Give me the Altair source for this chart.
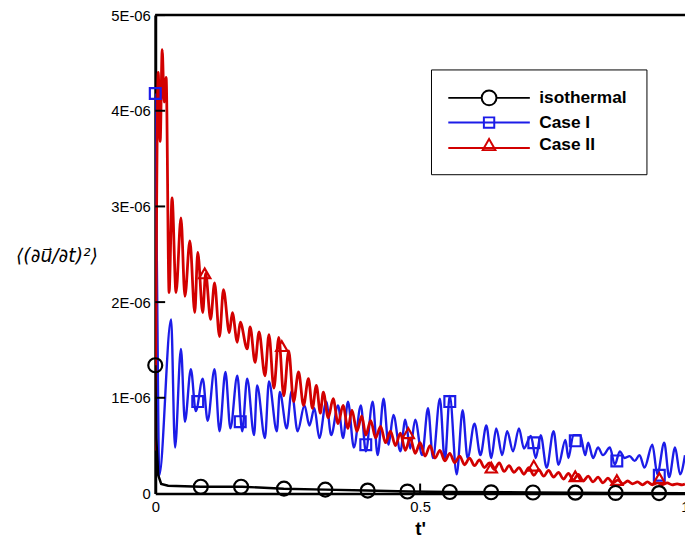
import altair as alt
import pandas as pd

series = ["isothermal", "Case I", "Case II"]
colors = ["#000000", "#1c1ce8", "#d20000"]

# ---- isothermal (values in units of 1E-06) ----
iso_t = [0.0, 0.0019, 0.0056, 0.0112, 0.0243, 0.0858, 0.1642, 0.2425, 0.3209,
         0.3993, 0.4776, 0.5560, 0.7146, 0.8731, 1.0]
iso_v = [1.34, 0.58, 0.19, 0.10, 0.08, 0.07, 0.07, 0.05, 0.04,
         0.03, 0.02, 0.015, 0.01, 0.005, 0.003]

# ---- Case I ----
c1_t = [0.0, 0.0037, 0.0075, 0.0299, 0.0373, 0.0485, 0.0560, 0.0672, 0.0765, 0.0896,
        0.0989, 0.1119, 0.1213, 0.1325, 0.1418, 0.1549, 0.1642, 0.1735, 0.1866, 0.1922,
        0.2071, 0.2146, 0.2295, 0.2351, 0.2481, 0.2575, 0.2687, 0.2817, 0.2910, 0.3004,
        0.3097, 0.3228, 0.3321, 0.3451, 0.3545, 0.3638, 0.3750, 0.3881, 0.3974, 0.4104,
        0.4198, 0.4310, 0.4403, 0.4496, 0.4627, 0.4720, 0.4813, 0.4907, 0.5037, 0.5149,
        0.5243, 0.5373, 0.5466, 0.5560, 0.5690, 0.5802, 0.5896, 0.6026, 0.6138, 0.6250,
        0.6343, 0.6437, 0.6549, 0.6642, 0.6754, 0.6866, 0.6959, 0.7090, 0.7183, 0.7276,
        0.7388, 0.7519, 0.7612, 0.7743, 0.7799, 0.7892, 0.8022, 0.8116, 0.8172, 0.8265,
        0.8358, 0.8451, 0.8582, 0.8675, 0.8769, 0.8862, 0.8955, 0.9049, 0.9142, 0.9235,
        0.9384, 0.9478, 0.9608, 0.9701, 0.9813, 0.9907, 1.0]
c1_v = [4.18, 2.02, 0.19, 1.82, 0.48, 1.51, 0.75, 1.30, 0.86, 1.20,
        0.76, 1.30, 0.65, 1.27, 0.68, 1.23, 0.65, 1.20, 0.61, 1.13,
        0.58, 1.17, 0.65, 1.06, 0.68, 1.07, 0.65, 0.92, 0.71, 0.89,
        0.58, 0.96, 0.61, 0.92, 0.58, 0.96, 0.48, 0.92, 0.44, 0.96,
        0.40, 0.99, 0.51, 0.82, 0.44, 0.77, 0.47, 0.77, 0.40, 0.89,
        0.37, 0.99, 0.34, 1.02, 0.20, 0.87, 0.37, 0.73, 0.40, 0.71,
        0.37, 0.68, 0.40, 0.65, 0.44, 0.68, 0.47, 0.60, 0.37, 0.61,
        0.27, 0.65, 0.30, 0.56, 0.37, 0.61, 0.61, 0.40, 0.53, 0.37,
        0.48, 0.40, 0.48, 0.30, 0.44, 0.37, 0.39, 0.34, 0.40, 0.27,
        0.51, 0.20, 0.53, 0.17, 0.48, 0.20, 0.40]

# ---- Case II ----
c2_t = [0.0, 0.0056, 0.0093, 0.0131, 0.0168, 0.0205, 0.0261, 0.0317, 0.0392, 0.0485,
        0.0560, 0.0653, 0.0746, 0.0802, 0.0896, 0.0951, 0.1045, 0.1119, 0.1213, 0.1287,
        0.1399, 0.1455, 0.1549, 0.1604, 0.1735, 0.1791, 0.1884, 0.1959, 0.2071, 0.2146,
        0.2239, 0.2332, 0.2425, 0.2519, 0.2612, 0.2705, 0.2799, 0.2892, 0.2966, 0.3041,
        0.3116, 0.3172, 0.3265, 0.3358, 0.3451, 0.3545, 0.3638, 0.3713, 0.3806, 0.3899,
        0.3974, 0.4067, 0.4160, 0.4254, 0.4347, 0.4440, 0.4534, 0.4627, 0.4720, 0.4813,
        0.4907, 0.5000, 0.5093, 0.5187, 0.5280, 0.5373, 0.5466, 0.5560, 0.5653, 0.5746,
        0.5840, 0.5933, 0.6026, 0.6119, 0.6213, 0.6306, 0.6399, 0.6493, 0.6586, 0.6679,
        0.6772, 0.6866, 0.6959, 0.7052, 0.7146, 0.7239, 0.7332, 0.7425, 0.7519, 0.7612,
        0.7705, 0.7799, 0.7892, 0.7985, 0.8078, 0.8172, 0.8265, 0.8358, 0.8451, 0.8545,
        0.8638, 0.8731, 0.8825, 0.8918, 0.9011, 0.9104, 0.9198, 0.9291, 0.9384, 0.9478,
        0.9571, 0.9664, 0.9757, 0.9851, 0.9944, 1.0]
c2_v = [0.45, 4.40, 3.68, 4.64, 4.09, 4.35, 2.10, 3.09, 2.10, 2.88,
        2.06, 2.64, 1.89, 2.52, 1.89, 2.30, 1.82, 2.20, 1.64, 2.13,
        1.68, 1.89, 1.58, 1.79, 1.51, 1.74, 1.37, 1.69, 1.23, 1.66,
        1.10, 1.63, 1.02, 1.49, 0.96, 1.27, 0.92, 1.20, 0.89, 1.13,
        0.84, 1.06, 0.79, 0.99, 0.73, 0.92, 0.68, 0.87, 0.65, 0.81,
        0.61, 0.76, 0.58, 0.70, 0.53, 0.65, 0.50, 0.63, 0.45, 0.58,
        0.42, 0.53, 0.39, 0.50, 0.37, 0.45, 0.34, 0.42, 0.32, 0.39,
        0.30, 0.37, 0.29, 0.35, 0.27, 0.32, 0.25, 0.32, 0.23, 0.29,
        0.22, 0.27, 0.20, 0.27, 0.19, 0.25, 0.18, 0.24, 0.17, 0.22,
        0.15, 0.21, 0.14, 0.20, 0.13, 0.18, 0.12, 0.17, 0.11, 0.16,
        0.11, 0.14, 0.10, 0.13, 0.10, 0.12, 0.09, 0.12, 0.09, 0.11,
        0.09, 0.11, 0.09, 0.10, 0.09, 0.10]

# ---- markers ----
iso_mk_t = [0.0, 0.086, 0.162, 0.243, 0.321, 0.401, 0.476, 0.556, 0.634, 0.713, 0.793, 0.869, 0.951]
iso_mk_v = [1.34, 0.07, 0.07, 0.05, 0.04, 0.03, 0.02, 0.015, 0.012, 0.01, 0.008, 0.005, 0.004]
c1_mk_t = [0.0, 0.0802, 0.1604, 0.3974, 0.5560, 0.7146, 0.7929, 0.8713, 0.9515]
c1_mk_v = [4.18, 0.96, 0.75, 0.51, 0.96, 0.53, 0.55, 0.34, 0.19]
c2_mk_t = [0.0933, 0.2388, 0.4776, 0.6343, 0.7146, 0.7929, 0.8713, 0.9515]
c2_mk_v = [2.30, 1.54, 0.63, 0.27, 0.29, 0.18, 0.14, 0.16]

x_ticks = [0, 0.5, 1]
y_ticks = [0, 1, 2, 3, 4, 5]

W, H = 536, 484
FONT = "Liberation Sans"

def frame(ts, vs, name):
    return pd.DataFrame({"t": ts, "v": vs, "series": name, "i": range(len(ts))})

xscale = alt.Scale(domain=[0, 1], nice=False)
yscale = alt.Scale(domain=[0, 5], nice=False)
cscale = alt.Scale(domain=series, range=colors)

xaxis = alt.Axis(values=x_ticks, format="~g", ticks=False, grid=False,
                 domainColor="black", domainWidth=2.5, labelFont=FONT,
                 labelFontSize=15, labelColor="black", labelPadding=6,
                 labelFlush=False, title="t'", titleFont=FONT, titleFontSize=19,
                 titleFontWeight="bold", titleColor="black", titlePadding=6)
yaxis = alt.Axis(values=y_ticks, ticks=False, grid=False,
                 labelExpr="datum.value == 0 ? '0' : datum.value + 'E-06'",
                 domainColor="black", domainWidth=3, labelFont=FONT,
                 labelFontSize=15, labelColor="black", labelPadding=5,
                 title="⟨(∂u⃗/∂t)²⟩", titleAngle=0, titleFont="DejaVu Sans",
                 titleFontSize=19, titleFontWeight="normal", titleFontStyle="italic",
                 titleColor="black",
                 titleX=-100, titleY=243, titleAlign="center", titleBaseline="middle")

def line_layer(ts, vs, name, color, interp, width, axes=False):
    enc = dict(
        x=alt.X("t:Q", scale=xscale, axis=xaxis) if axes else alt.X("t:Q", scale=xscale),
        y=alt.Y("v:Q", scale=yscale, axis=yaxis) if axes else alt.Y("v:Q", scale=yscale),
        order="i:Q",
    )
    return alt.Chart(frame(ts, vs, name)).mark_line(
        color=color, interpolate=interp, strokeWidth=width, clip=True
    ).encode(**enc)

ln_c1 = line_layer(c1_t, c1_v, "Case I", colors[1], "monotone", 2.4, axes=True)
ln_c2 = line_layer(c2_t, c2_v, "Case II", colors[2], "monotone", 2.8)
ln_iso = line_layer(iso_t, iso_v, "isothermal", colors[0], "linear", 2.5)

def markers(ts, vs, name, shape, size, color):
    return alt.Chart(frame(ts, vs, name)).mark_point(
        shape=shape, size=size, filled=False, strokeWidth=2.2, color=color,
        opacity=1, clip=False
    ).encode(x=alt.X("t:Q", scale=xscale), y=alt.Y("v:Q", scale=yscale))

mk_iso = markers(iso_mk_t, iso_mk_v, "isothermal", "circle", 200, colors[0])
mk_c1 = markers(c1_mk_t, c1_mk_v, "Case I", "square", 120, colors[1])
mk_c2 = markers(c2_mk_t, c2_mk_v, "Case II", "triangle-up", 130, colors[2])

sym_paths = [
    "M-5.5,0H-1M1,0H5.5M-1,0A1,1,0,1,1,1,0A1,1,0,1,1,-1,0Z",
    "M-5.5,0H5.5M-0.7,-0.7H0.7V0.7H-0.7Z",
    "M-5.5,0.35H5.5M0,-0.85L0.85,0.65H-0.85Z",
]
leg = dict(title=None, orient="none", legendX=279, legendY=55, padding=20,
           strokeColor="black", fillColor="white", labelFont=FONT,
           labelFontSize=17.5, labelFontWeight="bold", labelColor="black",
           symbolSize=225, symbolOffset=30, labelOffset=42, rowPadding=3,
           symbolStrokeWidth=2, symbolOpacity=1, symbolFillColor="transparent")
legend_df = pd.DataFrame({"t": [iso_t[-1], c1_t[-1], c2_t[-1]],
                          "v": [iso_v[-1], c1_v[-1], c2_v[-1]],
                          "series": series})
legend_layer = alt.Chart(legend_df).mark_point(
    size=225, filled=False, strokeWidth=2, opacity=0
).encode(
    x=alt.X("t:Q", scale=xscale), y=alt.Y("v:Q", scale=yscale),
    color=alt.Color("series:N", scale=cscale, sort=series, legend=alt.Legend(**leg)),
    shape=alt.Shape("series:N", sort=series,
                    scale=alt.Scale(domain=series, range=sym_paths),
                    legend=alt.Legend(**leg)),
)

ytick_rule = alt.Chart(pd.DataFrame({"v": y_ticks[1:]})).mark_rule(
    color="black", strokeWidth=2).encode(
    y=alt.Y("v:Q", scale=yscale), x=alt.value(0), x2=alt.value(10))
xtick_rule = alt.Chart(pd.DataFrame({"t": [0.5]})).mark_rule(
    color="black", strokeWidth=2).encode(
    x=alt.X("t:Q", scale=xscale), y=alt.value(H), y2=alt.value(H - 10))
top_rule = alt.Chart(pd.DataFrame({"v": [5]})).mark_rule(
    color="black", strokeWidth=2.5).encode(
    y=alt.Y("v:Q", scale=yscale), x=alt.value(0), x2=alt.value(W))

chart = alt.layer(
    ln_c1, ln_c2, ln_iso, mk_c1, mk_c2, mk_iso,
    ytick_rule, xtick_rule, top_rule, legend_layer
).properties(
    width=W, height=H,
    autosize=alt.AutoSizeParams(type="none"),
    padding={"left": 149, "top": 4, "right": 0, "bottom": 50},
    background="white",
).configure_view(strokeWidth=0)

chart.save("out.html", embed_options={"renderer": "svg", "actions": False})
